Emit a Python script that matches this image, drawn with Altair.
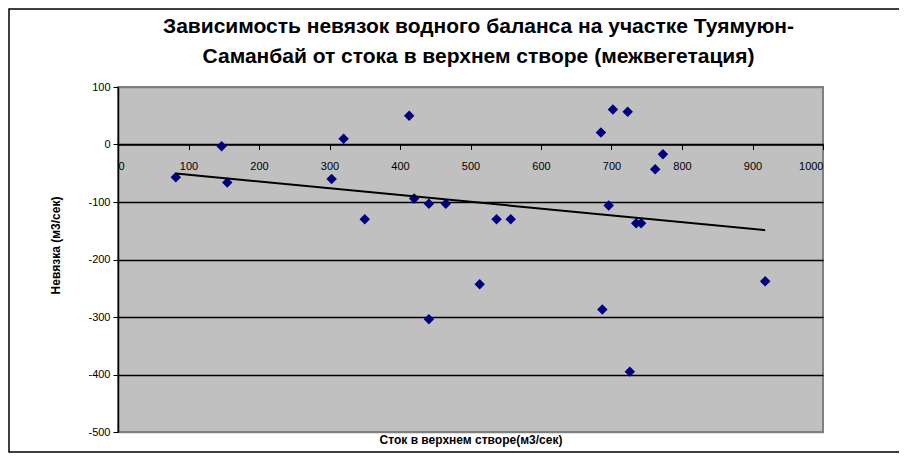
import altair as alt
import pandas as pd

# Stock in upper section (m3/s) and water balance discrepancy (m3/s)
x_vals = [82, 147, 155, 303, 320, 350, 413, 420, 441, 465, 441, 513, 537, 557,
          685, 702, 723, 687, 696, 762, 773, 735, 742, 726, 918]
y_vals = [-57, -3, -66, -60, 10, -130, 50, -94, -103, -103, -304, -243, -130, -130,
          21, 61, 57, -287, -106, -43, -17, -137, -137, -395, -238]

x_ticks = [0, 100, 200, 300, 400, 500, 600, 700, 800, 900, 1000]
y_ticks = [-500, -400, -300, -200, -100, 0, 100]

title_lines = ["Зависимость невязок водного баланса на участке Туямуюн-",
               "Саманбай от  стока  в верхнем створе (межвегетация)"]
x_title = "Сток в верхнем створе(м3/сек)"
y_title = "Невязка (м3/сек)"

df = pd.DataFrame({"x": x_vals, "y": y_vals})

W, H = 705, 345
FONT = "Liberation Sans"

x_enc = alt.X(
    "x:Q",
    scale=alt.Scale(domain=[0, 1000], nice=False, zero=False),
    axis=alt.Axis(
        values=x_ticks, offset=-287.5, title=x_title,
        titleY=295, titleBaseline="middle", titleFontWeight="bold",
        titleFontSize=12, tickSize=5, labelPadding=11,
        labelExpr="'' + datum.value", grid=False,
    ),
)
y_enc = alt.Y(
    "y:Q",
    scale=alt.Scale(domain=[-500, 100], nice=False, zero=False),
    axis=alt.Axis(
        values=y_ticks, title=y_title, titleX=-63, titleY=158,
        titleAngle=270, titleAlign="center", titleBaseline="middle",
        titleFontWeight="bold", titleFontSize=12, tickSize=5, labelPadding=3,
        labelExpr="'' + datum.value", grid=True,
        gridColor=alt.condition("datum.value >= 100 || datum.value <= -500",
                                alt.value("#808080"), alt.value("black")),
        gridWidth=1.3,
    ),
)

points = alt.Chart(df).mark_point(
    shape="diamond", filled=True, size=110, color="#000080", opacity=1
).encode(x=x_enc, y=y_enc)

trend = alt.Chart(df).transform_regression("x", "y").mark_line(
    color="black", strokeWidth=2
).encode(x="x:Q", y="y:Q")

frame = alt.Chart(pd.DataFrame({"a": [0]})).mark_rect(
    fill=None, stroke="black", strokeWidth=1.5
).encode(
    x=alt.value(-109), x2=alt.value(W + 90),
    y=alt.value(-78), y2=alt.value(H + 20),
)

chart = alt.layer(frame, points, trend).properties(
    width=W, height=H,
    autosize=alt.AutoSizeParams(type="none"),
    padding={"left": 110, "top": 79, "right": 76, "bottom": 21},
    background="white",
    title=alt.TitleParams(
        text=title_lines, fontSize=21, fontWeight="bold", font=FONT,
        anchor="middle", baseline="bottom", offset=-80, lineHeight=30,
        dx=8, color="black",
    ),
).configure_view(
    fill="#C0C0C0", stroke="#808080", strokeWidth=2
).configure_axis(
    labelFont=FONT, labelFontSize=11, labelColor="black",
    titleFont=FONT, titleColor="black",
    tickColor="black", domainColor="black", domainWidth=1.5,
)

chart.save("out.html", embed_options={"renderer": "svg", "actions": False})
